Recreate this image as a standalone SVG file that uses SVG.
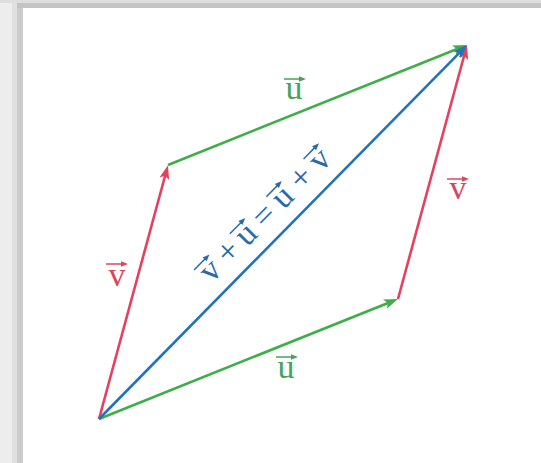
<svg xmlns="http://www.w3.org/2000/svg" xmlns:xlink="http://www.w3.org/1999/xlink" width="541" height="463" viewBox="0 0 541 463">
<style>
.lbl{font-family:"Liberation Serif","Times New Roman",serif;font-size:34px;text-anchor:middle}
.vec{stroke-width:2.6;fill:none;stroke-linecap:butt}
</style>
<defs>
<marker id="ahR" markerUnits="userSpaceOnUse" markerWidth="16" markerHeight="12" refX="8" refY="5" orient="auto"><path d="M0,0 L14,5 L0,10 L3,5 Z" fill="#e5405e"/></marker>
<marker id="ahG" markerUnits="userSpaceOnUse" markerWidth="16" markerHeight="12" refX="8" refY="5" orient="auto"><path d="M0,0 L14,5 L0,10 L3,5 Z" fill="#3fae49"/></marker>
<marker id="ahB" markerUnits="userSpaceOnUse" markerWidth="16" markerHeight="12" refX="8" refY="5" orient="auto"><path d="M0,0 L14,5 L0,10 L3,5 Z" fill="#2273b9"/></marker>
<g id="ov"><path d="M-11,0 H7" stroke="currentColor" stroke-width="1.5"/><path d="M11,0 L4,-2.8 L4,2.8 Z" fill="currentColor"/></g>
</defs>
<rect x="0" y="0" width="541" height="463" fill="#ffffff"/>
<g id="frame">
<rect x="0" y="0" width="12" height="463" fill="#ededed"/>
<rect x="12" y="0" width="5" height="463" fill="#e0e0e0"/>
<rect x="17" y="0" width="6" height="463" fill="#cbcbcb"/>
<rect x="0" y="0" width="541" height="3" fill="#dedede"/>
<rect x="17" y="3" width="524" height="5" fill="#c4c4c4"/>
</g>
<g id="connectors">
<path class="vec" d="M99,419 L166.4,171" stroke="#e5405e" marker-end="url(#ahR)"/>
<path class="vec" d="M398,299 L465.4,51" stroke="#e5405e" marker-end="url(#ahR)"/>
<path class="vec" d="M99,419 L392.4,301.2" stroke="#3fae49" marker-end="url(#ahG)"/>
<path class="vec" d="M168,165 L461.4,47.2" stroke="#3fae49" marker-end="url(#ahG)"/>
<path class="vec" d="M99,419 L462.8,49.3" stroke="#2273b9" marker-end="url(#ahB)"/>
</g>
<g id="label-u-top" color="#47a35a"><text class="lbl" x="294" y="99" fill="#47a35a">u</text><use xlink:href="#ov" x="295" y="79"/></g>
<g id="label-u-bottom" color="#47a35a"><text class="lbl" x="286" y="378" fill="#47a35a">u</text><use xlink:href="#ov" x="287" y="357"/></g>
<g id="label-v-left" color="#d9475f"><text class="lbl" x="117" y="286" fill="#d9475f">v</text><use xlink:href="#ov" x="117" y="264"/></g>
<g id="label-v-right" color="#d9475f"><text class="lbl" x="458" y="199" fill="#d9475f">v</text><use xlink:href="#ov" x="458" y="179"/></g>
<g id="label-sum" color="#2a6aa8" transform="translate(266.5,216.5) rotate(-45.4)">
<text class="lbl" y="8" fill="#2a6aa8"><tspan x="-78">v</tspan><tspan x="-52">+</tspan><tspan x="-27">u</tspan><tspan x="-1">=</tspan><tspan x="25">u</tspan><tspan x="52">+</tspan><tspan x="78">v</tspan></text>
<use xlink:href="#ov" x="-78" y="-14"/><use xlink:href="#ov" x="-27" y="-14"/><use xlink:href="#ov" x="25" y="-14"/><use xlink:href="#ov" x="78" y="-14"/>
</g>
</svg>
